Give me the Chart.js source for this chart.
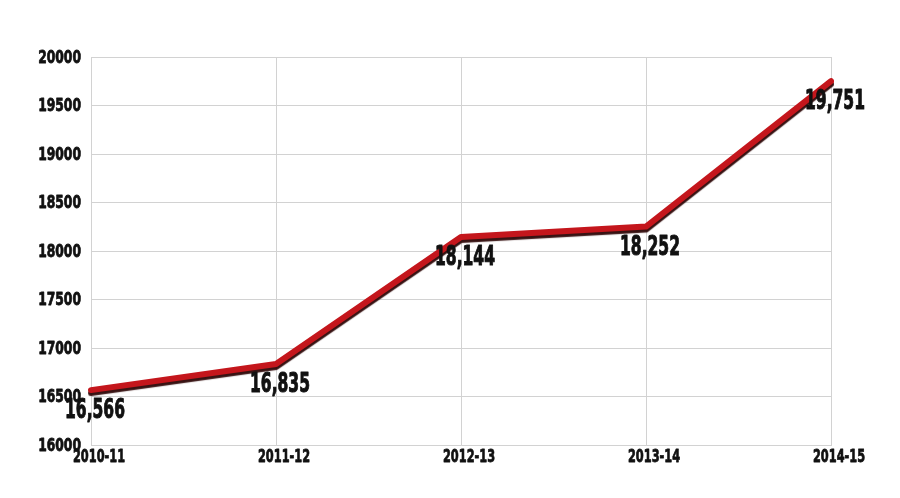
<!DOCTYPE html>
<html>
<head>
<meta charset="utf-8">
<script src="https://cdn.jsdelivr.net/npm/chart.js@4.4.0/dist/chart.umd.min.js"></script>
<style>
html,body{margin:0;padding:0;background:#fff;}
#wrap{width:900px;height:498px;}
</style>
</head>
<body>
<div id="wrap"><canvas id="c" width="900" height="498"></canvas></div>
<script>
const categories = ['2010-11', '2011-12', '2012-13', '2013-14', '2014-15'];
const values = [16566, 16835, 18144, 18252, 19751];
const yTicks = [16000, 16500, 17000, 17500, 18000, 18500, 19000, 19500, 20000];

const FONT = '"DejaVu Sans Condensed", "DejaVu Sans", sans-serif';

// draw condensed, heavy text (horizontally squeezed) aligned at x
function squeezedText(ctx, text, x, y, size, align, sx, stroke) {
  ctx.save();
  ctx.font = 'bold ' + size + 'px ' + FONT;
  ctx.fillStyle = '#111';
  ctx.strokeStyle = '#111';
  ctx.lineWidth = stroke;
  ctx.lineJoin = 'round';
  ctx.textBaseline = 'middle';
  ctx.textAlign = align;
  ctx.translate(x, y);
  ctx.scale(sx, 1);
  ctx.fillText(text, 0, 0);
  if (stroke > 0) ctx.strokeText(text, 0, 0);
  ctx.restore();
}

const shadowPlugin = {
  id: 'lineShadow',
  beforeDatasetDraw(chart) {
    const ctx = chart.ctx;
    ctx.save();
    ctx.shadowColor = 'rgba(45,6,6,0.95)';
    ctx.shadowOffsetX = 0;
    ctx.shadowOffsetY = 3;
    ctx.shadowBlur = 1;
  },
  afterDatasetDraw(chart) {
    chart.ctx.restore();
  }
};

const textPlugin = {
  id: 'condensedText',
  afterDraw(chart) {
    const ctx = chart.ctx;
    const xs = chart.scales.x, ys = chart.scales.y;
    ys.ticks.forEach(t => {
      squeezedText(ctx, String(t.value), xs.left - 10, ys.getPixelForValue(t.value) + 1, 18, 'right', 0.76, 0.8);
    });
    categories.forEach((c, i) => {
      squeezedText(ctx, c, xs.getPixelForValue(i) + 8, ys.bottom + 12, 18, 'center', 0.7, 0.8);
    });
    const meta = chart.getDatasetMeta(0);
    meta.data.forEach((pt, i) => {
      squeezedText(ctx, values[i].toLocaleString('en-US'), pt.x + 4, pt.y + 21, 27, 'center', 0.64, 1);
    });
  }
};

new Chart(document.getElementById('c'), {
  type: 'line',
  data: {
    labels: categories,
    datasets: [{
      data: values,
      borderColor: '#c4161c',
      borderWidth: 6,
      pointRadius: 0,
      tension: 0,
      fill: false,
      borderJoinStyle: 'round',
      borderCapStyle: 'round'
    }]
  },
  options: {
    responsive: false,
    animation: false,
    layout: { padding: { left: 0, right: 69, top: 57, bottom: 0 } },
    plugins: { legend: { display: false }, tooltip: { enabled: false } },
    scales: {
      x: {
        offset: false,
        grid: { color: '#d2d2d2', lineWidth: 1, drawTicks: false },
        border: { color: '#d2d2d2' },
        ticks: { display: false },
        afterFit(s) { s.height = 53; }
      },
      y: {
        min: 16000,
        max: 20000,
        grid: { color: '#d2d2d2', lineWidth: 1, drawTicks: false },
        border: { color: '#d2d2d2' },
        afterBuildTicks(s) { s.ticks = yTicks.map(v => ({ value: v })); },
        ticks: { display: false },
        afterFit(s) { s.width = 91; }
      }
    }
  },
  plugins: [shadowPlugin, textPlugin]
});
</script>
</body>
</html>
